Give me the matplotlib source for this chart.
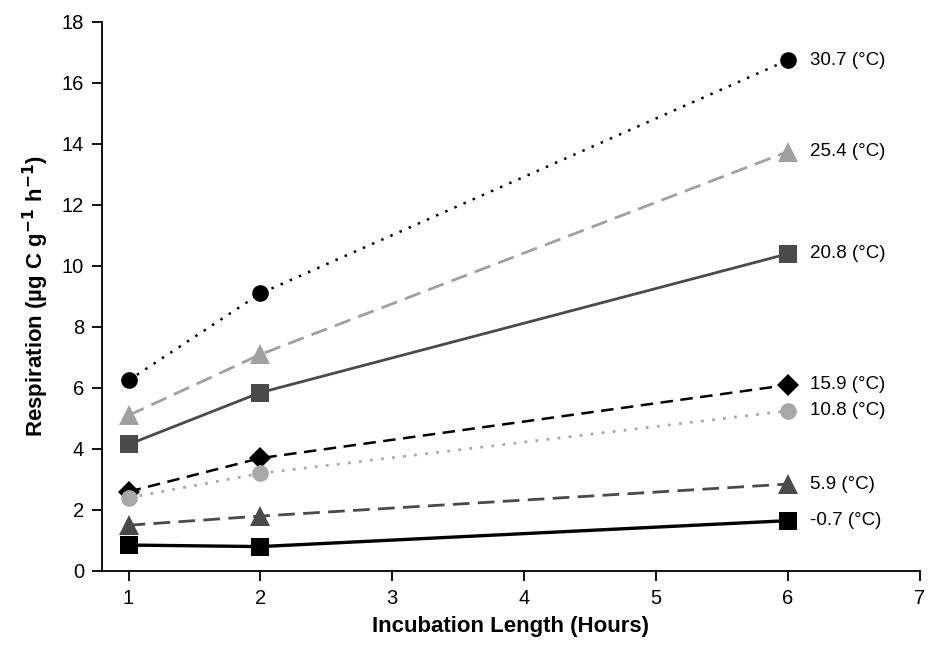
import matplotlib
matplotlib.use("Agg")
import matplotlib.pyplot as plt

hours = [1, 2, 6]
temps = ["30.7", "25.4", "20.8", "15.9", "10.8", "5.9", "-0.7"]
resp_307 = [6.25, 9.1, 16.75]
resp_254 = [5.1, 7.1, 13.75]
resp_208 = [4.15, 5.85, 10.4]
resp_159 = [2.6, 3.7, 6.1]
resp_108 = [2.4, 3.2, 5.25]
resp_59 = [1.5, 1.8, 2.85]
resp_m07 = [0.85, 0.8, 1.65]

series = [resp_307, resp_254, resp_208, resp_159, resp_108, resp_59, resp_m07]
styles = [
    dict(color="black", ls=(0, (1, 3)), marker="o", ms=12, lw=1.8),
    dict(color="#a0a0a0", ls=(0, (6, 3)), marker="^", ms=14, lw=2.0),
    dict(color="#4a4a4a", ls="-", marker="s", ms=13.5, lw=2.0),
    dict(color="black", ls=(0, (5, 3)), marker="D", ms=11, lw=1.8),
    dict(color="#a8a8a8", ls=(0, (1, 3)), marker="o", ms=12, lw=2.0),
    dict(color="#4a4a4a", ls=(0, (6, 3)), marker="^", ms=14, lw=2.0),
    dict(color="black", ls="-", marker="s", ms=13.5, lw=2.4),
]

plt.rcParams["font.family"] = ["Liberation Sans", "DejaVu Sans"]

fig = plt.figure(figsize=(9.29, 6.47), dpi=100)
ax = fig.add_axes([0.110, 0.1175, 0.880, 0.8485])

for vals, st, t in zip(series, styles, temps):
    ax.plot(hours, vals, color=st["color"], ls=st["ls"], lw=st["lw"],
            marker=st["marker"], ms=st["ms"], markeredgewidth=0)
    ax.text(hours[-1] + 0.17, vals[-1], f"{t} (°C)", fontsize=13.5,
            va="center", ha="left")

ax.set_xlim(0.8, 7)
ax.set_ylim(0, 18)
ax.set_xticks(range(1, 8))
ax.set_yticks(range(0, 19, 2))
ax.spines["top"].set_visible(False)
ax.spines["right"].set_visible(False)
for s in ["left", "bottom"]:
    ax.spines[s].set_linewidth(1.3)
ax.tick_params(axis="both", direction="out", length=7, width=1.3,
               labelsize=14.5, pad=6)

lab = dict(fontsize=16, fontweight="bold")
ax.set_xlabel("Incubation Length (Hours)", labelpad=6, **lab)
ax.set_ylabel(r"Respiration (µg C g$^{\mathbf{-1}}$ h$^{\mathbf{-1}}$)",
              labelpad=8, **lab)

fig.savefig("out.png", dpi=100)
